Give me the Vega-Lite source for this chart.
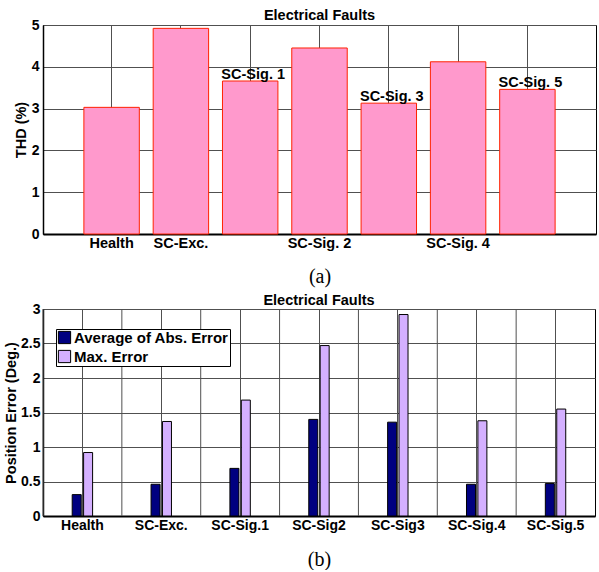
{
  "$schema": "https://vega.github.io/schema/vega-lite/v6.json",
  "background": "white",
  "padding": {"left": 2, "top": 7, "right": 0, "bottom": 0},
  "spacing": 5,
  "resolve": {"legend": {"color": "independent"}},
  "datasets": {
    "thd": [
      {"fault": "Health", "thd": 3.03},
      {"fault": "SC-Exc.", "thd": 4.92},
      {"fault": "SC-Sig. 1", "thd": 3.66},
      {"fault": "SC-Sig. 2", "thd": 4.45},
      {"fault": "SC-Sig. 3", "thd": 3.13},
      {"fault": "SC-Sig. 4", "thd": 4.12},
      {"fault": "SC-Sig. 5", "thd": 3.46}
    ],
    "err": [
      {"fault": "Health", "series": "Average of Abs. Error", "value": 0.31},
      {"fault": "Health", "series": "Max. Error", "value": 0.92},
      {"fault": "SC-Exc.", "series": "Average of Abs. Error", "value": 0.46},
      {"fault": "SC-Exc.", "series": "Max. Error", "value": 1.37},
      {"fault": "SC-Sig.1", "series": "Average of Abs. Error", "value": 0.69},
      {"fault": "SC-Sig.1", "series": "Max. Error", "value": 1.68},
      {"fault": "SC-Sig2", "series": "Average of Abs. Error", "value": 1.40},
      {"fault": "SC-Sig2", "series": "Max. Error", "value": 2.47},
      {"fault": "SC-Sig3", "series": "Average of Abs. Error", "value": 1.36},
      {"fault": "SC-Sig3", "series": "Max. Error", "value": 2.92},
      {"fault": "SC-Sig.4", "series": "Average of Abs. Error", "value": 0.46},
      {"fault": "SC-Sig.4", "series": "Max. Error", "value": 1.38},
      {"fault": "SC-Sig.5", "series": "Average of Abs. Error", "value": 0.47},
      {"fault": "SC-Sig.5", "series": "Max. Error", "value": 1.55}
    ]
  },
  "config": {
    "font": "Liberation Sans",
    "view": {"stroke": "black", "strokeWidth": 1},
    "axis": {
      "labelFont": "Liberation Sans", "labelFontWeight": "bold", "labelFontSize": 14, "labelColor": "black",
      "titleFont": "Liberation Sans", "titleFontWeight": "bold", "titleFontSize": 14.5, "titleColor": "black",
      "domainColor": "black", "gridColor": "#505050", "gridOpacity": 1, "gridWidth": 1,
      "ticks": false, "tickSize": 0
    },
    "title": {"font": "Liberation Sans", "fontWeight": "bold", "fontSize": 14.5, "color": "black", "frame": "group", "anchor": "middle"}
  },
  "vconcat": [
    {
      "width": 553,
      "height": 209,
      "title": {"text": "Electrical Faults", "offset": -5},
      "data": {"name": "thd"},
      "layer": [
        {
          "mark": {"type": "bar", "fill": "#FF99CC", "stroke": "#FF2200", "strokeWidth": 1},
          "encoding": {
            "x": {
              "field": "fault", "type": "nominal", "sort": null,
              "scale": {"paddingInner": 0.2, "paddingOuter": 0.59},
              "axis": {
                "title": "(a)", "titleFont": "Liberation Serif", "titleFontWeight": "normal", "titleFontSize": 20, "titlePadding": 17,
                "labelAngle": 0, "labelBaseline": "top", "labelPadding": 2, "labelFontSize": 14.5, "grid": true, "bandPosition": 0.5, "domainWidth": 2,
                "labelExpr": "indexof(['SC-Sig. 1','SC-Sig. 3','SC-Sig. 5'], datum.value) >= 0 ? '' : datum.value"
              }
            },
            "y": {
              "field": "thd", "type": "quantitative",
              "scale": {"domain": [0, 5], "nice": false},
              "axis": {"title": "THD (%)", "values": [0, 1, 2, 3, 4, 5], "grid": true, "labelPadding": 4, "titlePadding": 3, "domainWidth": 1.5}
            }
          }
        },
        {
          "transform": [{"filter": {"field": "fault", "oneOf": ["SC-Sig. 1", "SC-Sig. 3", "SC-Sig. 5"]}}],
          "mark": {"type": "text", "font": "Liberation Sans", "fontWeight": "bold", "fontSize": 14.5, "baseline": "alphabetic", "dy": -2, "dx": 3, "color": "black"},
          "encoding": {
            "x": {"field": "fault", "type": "nominal", "sort": null},
            "y": {"field": "thd", "type": "quantitative"},
            "text": {"field": "fault"}
          }
        }
      ]
    },
    {
      "width": 552,
      "height": 207,
      "title": {"text": "Electrical Faults", "offset": -6},
      "data": {"name": "err"},
      "layer": [
        {
          "transform": [{"filter": {"field": "series", "equal": "Max. Error"}}],
          "mark": {"type": "rule", "color": "#505050", "strokeWidth": 1},
          "encoding": {
            "x": {
              "field": "fault", "type": "nominal", "sort": null, "bandPosition": 0,
              "axis": {
                "title": "(b)", "titleFont": "Liberation Serif", "titleFontWeight": "normal", "titleFontSize": 20, "titlePadding": 17,
                "labelAngle": 0, "labelBaseline": "top", "labelPadding": 2, "grid": true, "bandPosition": 0.5, "domainWidth": 2
              }
            }
          }
        },
        {
          "mark": {"type": "bar", "stroke": "black", "strokeWidth": 1},
          "encoding": {
            "x": {
              "field": "fault", "type": "nominal", "sort": null,
              "scale": {"paddingInner": 0, "paddingOuter": 0},
              "axis": {
                "title": "(b)", "titleFont": "Liberation Serif", "titleFontWeight": "normal", "titleFontSize": 20, "titlePadding": 17,
                "labelAngle": 0, "labelBaseline": "top", "labelPadding": 2, "grid": true, "bandPosition": 0.5, "domainWidth": 2
              }
            },
            "xOffset": {
              "field": "series", "type": "nominal",
              "scale": {"domain": ["Average of Abs. Error", "Max. Error"], "range": [29.2, 49.6], "paddingInner": 0.21, "paddingOuter": 0}
            },
            "y": {
              "field": "value", "type": "quantitative",
              "scale": {"domain": [0, 3], "nice": false},
              "axis": {"title": "Position Error (Deg.)", "values": [0, 0.5, 1, 1.5, 2, 2.5, 3], "format": "~g", "grid": true, "labelPadding": 3, "titlePadding": 2.5, "domainWidth": 1.5}
            },
            "color": {
              "field": "series", "type": "nominal",
              "scale": {"domain": ["Average of Abs. Error", "Max. Error"], "range": ["#000080", "#D4B0FF"]},
              "legend": {
                "orient": "none", "legendX": 13, "legendY": 20, "title": null,
                "symbolType": "square", "symbolSize": 150, "symbolStrokeColor": "black", "symbolStrokeWidth": 1, "symbolOpacity": 1,
                "labelFont": "Liberation Sans", "labelFontSize": 15, "labelFontWeight": "bold", "labelColor": "black", "labelOffset": 2,
                "strokeColor": "black", "fillColor": "white", "padding": 1, "rowPadding": 2
              }
            }
          }
        }
      ]
    }
  ]
}
